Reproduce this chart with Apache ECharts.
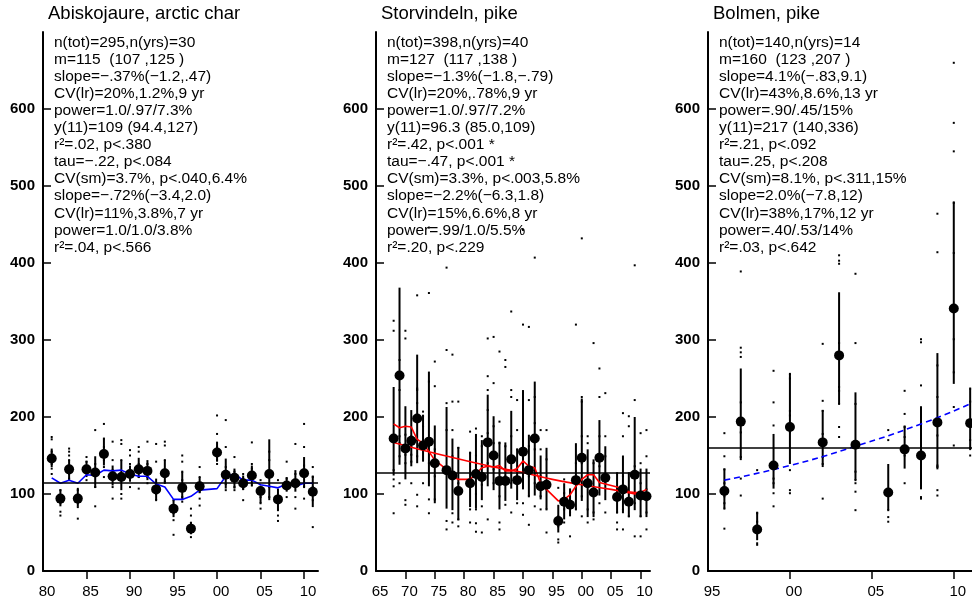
<!DOCTYPE html>
<html>
<head>
<meta charset="utf-8">
<script src="https://cdn.jsdelivr.net/npm/echarts@6/dist/echarts.min.js"></script>
<style>html,body{margin:0;padding:0;background:#fff}#c{width:972px;height:603px}</style>
</head>
<body>
<div id="c"></div>
<script>
// ---------- Panel 1: Abiskojaure, arctic char ----------
const p1Title = 'Abiskojaure, arctic char';
const p1Stats = ['n(tot)=295,n(yrs)=30','m=115  (107 ,125 )','slope=\u2212.37%(\u22121.2,.47)','CV(lr)=20%,1.2%,9 yr','power=1.0/.97/7.3%','y(11)=109 (94.4,127)','r\u00b2=.02, p<.380','tau=\u2212.22, p<.084','CV(sm)=3.7%, p<.040,6.4%','slope=\u2212.72%(\u22123.4,2.0)','CV(lr)=11%,3.8%,7 yr','power=1.0/1.0/3.8%','r\u00b2=.04, p<.566'];
const p1Years = [1981,1982,1983,1984,1985,1986,1987,1988,1989,1990,1991,1992,1993,1994,1995,1996,1997,1998,2000,2001,2002,2003,2004,2005,2006,2007,2008,2009,2010,2011];
const p1Means = [146,94,132,94,132,128,152,123,122,126,132,130,106,127,81,108,55,110,154,125,121,114,124,104,126,93,111,114,127,103];
const p1Lo = [135,84,118,84,122,108,137,111,105,116,121,118,92,113,70,92,49,101,142,107,107,105,111,88,92,79,103,103,109,83];
const p1Hi = [159,106,144,108,143,149,172,137,144,137,147,144,120,144,92,129,64,122,168,146,133,124,137,111,171,107,122,131,148,124];
const p1Smooth = [121,114,118,114,125,124,131,130,131,126,123,123,113,109,93,93,97,105,107,123,126,118,118,112,110,108,113,110,114,114];
const p1GrandMean = 115;
const p1Dots = [
 [174,171,155,139,133,126],[105,98,88,77,72],[159,155,150,144,133,126,120],[105,96,88,83,68],
 [148,142,135,129,118],[183,139,126,109,84],[191,172,161,144,135,122],[168,144,131,118,109,94],
 [170,165,144,118,100,94],[157,150,139,126,118,109],[161,155,139,133,122,107],[168,139,131,122,114],
 [165,142,114,100,92],[168,163,144,131,122,116],[92,83,75,66,47],[150,142,129,118,96,90],
 [81,72,62,53,49,44],[135,122,113,103,94,85],[202,178,161,148,144,139],[196,161,135,113,105],
 [148,129,118,109,105],[126,120,107,92],[167,139,133,122,111],[118,107,96,88,81],
 [155,144,126,109,96],[118,96,79,72,65],[142,120,113,107,96],[165,126,116,96,81],
 [191,161,137,122,109,94],[135,122,109,92,57]
];

// ---------- Panel 2: Storvindeln, pike ----------
const p2Title = 'Storvindeln, pike';
const p2Stats = ['n(tot)=398,n(yrs)=40','m=127  (117 ,138 )','slope=\u22121.3%(\u22121.8,\u2212.79)','CV(lr)=20%,.78%,9 yr','power=1.0/.97/7.2%','y(11)=96.3 (85.0,109)','r\u00b2=.42, p<.001 *','tau=\u2212.47, p<.001 *','CV(sm)=3.3%, p<.003,5.8%','slope=\u22122.2%(\u22126.3,1.8)','CV(lr)=15%,6.6%,8 yr','power=.99/1.0/5.5%','r\u00b2=.20, p<.229'];
const p2Years = [1968,1969,1970,1971,1972,1973,1974,1975,1977,1978,1979,1981,1982,1983,1984,1985,1986,1987,1988,1989,1990,1991,1992,1993,1994,1996,1997,1998,1999,2000,2001,2002,2003,2004,2006,2007,2008,2009,2010,2011];
const p2Means = [172,254,159,169,198,163,168,140,131,124,104,114,126,122,167,150,117,117,145,118,155,131,172,110,112,65,90,86,118,147,114,102,147,121,96,106,90,125,98,97];
const p2Lo = [124,138,119,136,140,142,110,88,81,79,66,83,81,92,110,105,80,91,107,92,106,97,98,93,80,50,67,71,80,91,70,70,98,92,75,75,70,79,70,70];
const p2Hi = [239,368,214,209,281,203,259,189,213,172,161,155,178,170,229,201,168,167,208,158,235,177,246,150,160,86,114,106,166,224,158,145,196,162,127,150,126,200,133,133];
const p2Smooth = [191,186,188,187,171,166,155,144,132,122,119,119,126,134,136,135,137,130,130,133,143,136,134,114,106,91,93,99,110,119,125,125,115,113,109,107,103,102,102,106];
const p2TrendYears = [1968,1975,1985,1990,1995,2000,2005,2011];
const p2TrendVals = [167,153,135,128,119,112,106,97];
const p2GrandMean = 127;
const p2Dots = [
 [325,312,131,119,110,75],[274,235,175,166,149,114],[312,302,177,151,140,92,86],[175,162,151,142,114],
 [358,237,235,218,170,149,99,84],[207,201,188,158,114],[446,361,246,162,140,93,75],[272,240,158,123,93],
 [394,287,218,183,134,65,54],[281,220,183,149,75,63],[220,160,114,67,58],[181,153,119,80,63],
 [185,150,100,80,62,51],[175,162,136,112,84,50],[302,253,235,209,179,140,67],[304,244,188,166,132,114],
 [285,194,166,114,97,63,54],[274,265,162,123,114,86],[337,235,226,175,114,76],[222,183,158,114,88],
 [443,320,231,201,162,136,88,73],[317,222,162,123,97,60],[407,226,192,158,114,84],[183,158,123,97,80],
 [183,145,106,80,50],[108,71,58,41,37],[119,101,80,63],[106,88,76,45],
 [320,140,114,80],[432,226,220,175,140,97,71],[175,166,114,80,63],[296,140,106,76,67],
 [263,226,175,136,88],[231,175,149,114,76],[127,106,76,63,54],[205,175,123,80,54],
 [201,188,127,88,71],[397,222,136,88,45],[179,140,114,71,45],[183,149,106,76,54]
];

// ---------- Panel 3: Bolmen, pike ----------
const p3Title = 'Bolmen, pike';
const p3Stats = ['n(tot)=140,n(yrs)=14','m=160  (123 ,207 )','slope=4.1%(\u2212.83,9.1)','CV(lr)=43%,8.6%,13 yr','power=.90/.45/15%','y(11)=217 (140,336)','r\u00b2=.21, p<.092','tau=.25, p<.208','CV(sm)=8.1%, p<.311,15%','slope=2.0%(\u22127.8,12)','CV(lr)=38%,17%,12 yr','power=.40/.53/14%','r\u00b2=.03, p<.642'];
const p3Years = [1996,1997,1998,1999,2000,2002,2003,2004,2006,2007,2008,2009,2010,2011];
const p3Means = [104,194,54,137,187,167,280,164,102,158,150,193,341,192];
const p3Lo = [81,144,40,107,139,135,217,118,79,133,106,132,243,157];
const p3Hi = [133,263,77,178,256,209,362,232,139,189,214,283,480,237];
const p3TrendYears = [1996,2000,2004,2008,2011];
const p3TrendVals = [118,137,162,191,217];
const p3GrandMean = 160;
const p3Dots = [
 [179,149,132,114,97,88,81,55],[389,290,284,278,219,180,148,120,98],[131,75,64,53,36,34],
 [260,219,189,139,120,114,101,84],[256,250,208,202,191,180,131,105,101],[295,221,208,178,148,139,94],
 [410,403,399,296,239,234,217,187,174],[386,296,217,129,118,114,103,79],[183,170,79,70,64],
 [234,204,187,174,161,150,114],[301,297,241,122,116,96,94],[464,414,267,226,191,176,137,135,105,98],
 [660,582,545,478,413,301,258,213,163],[237,220,192,170,160,150]
];

// Axis tick/label values
const yTickVals = [0,100,200,300,400,500,600];
const xLabelVals = [
 [1980,1985,1990,1995,2000,2005,2010],
 [1965,1970,1975,1980,1985,1990,1995,2000,2005,2010],
 [1995,2000,2005,2010]
];
const xMins = [1980,1965,1995];
const xMax = 2011.6;

// ---------- build ----------
const FONT = "'Liberation Sans', Arial, Helvetica, sans-serif";
const grids = [
 {left:43, top:32, width:275, height:539},
 {left:376, top:32, width:274, height:539},
 {left:708, top:32, width:272, height:539}
];
const panels = [
 {title:p1Title, stats:p1Stats, years:p1Years, means:p1Means, lo:p1Lo, hi:p1Hi, dots:p1Dots, gm:p1GrandMean},
 {title:p2Title, stats:p2Stats, years:p2Years, means:p2Means, lo:p2Lo, hi:p2Hi, dots:p2Dots, gm:p2GrandMean},
 {title:p3Title, stats:p3Stats, years:p3Years, means:p3Means, lo:p3Lo, hi:p3Hi, dots:p3Dots, gm:p3GrandMean}
];

const titles = [], xAxes = [], yAxes = [], series = [];
panels.forEach((p, i) => {
  const g = grids[i];
  titles.push({text:p.title, left:g.left+5, top:4, padding:0,
    textStyle:{fontSize:18.5, fontWeight:'normal', fontFamily:FONT, color:'#000'}});
  titles.push({text:p.stats.join('\n'), left:g.left+11, top:34, padding:0,
    textStyle:{fontSize:15.5, lineHeight:17.07, fontWeight:'normal', fontFamily:FONT, color:'#000'}});
  const tickVals = xLabelVals[i].filter(v => v > xMins[i]);
  xAxes.push({type:'value', gridIndex:i, min:xMins[i], max:xMax,
    axisLine:{show:true, onZero:false, lineStyle:{color:'#000', width:2}},
    axisTick:{show:true, length:8, lineStyle:{color:'#000', width:1.5}, customValues:tickVals},
    axisLabel:{customValues:xLabelVals[i], color:'#000', fontSize:15, fontFamily:FONT, margin:13,
      padding:[0,0,0,8], formatter:v => String(Math.round(v) % 100).padStart(2,'0')},
    splitLine:{show:false}});
  yAxes.push({type:'value', gridIndex:i, min:0, max:700,
    axisLine:{show:true, onZero:false, lineStyle:{color:'#000', width:2}},
    axisTick:{show:true, inside:true, length:8, lineStyle:{color:'#000', width:1.5}, customValues:yTickVals},
    axisLabel:{customValues:yTickVals, color:'#000', fontSize:15, fontWeight:'bold', fontFamily:FONT, margin:8},
    splitLine:{show:false}});
  const dotData = [];
  p.years.forEach((y, k) => p.dots[k].forEach(v => dotData.push([y, v])));
  series.push({type:'scatter', xAxisIndex:i, yAxisIndex:i, data:dotData, symbol:'rect', symbolSize:2,
    itemStyle:{color:'#000', opacity:1}, z:1, silent:true});
  series.push({type:'custom', xAxisIndex:i, yAxisIndex:i, z:2, silent:true,
    data:p.years.map((y,k) => [y, p.lo[k], p.hi[k]]),
    encode:{x:0, y:[1,2]},
    renderItem:(params, api) => {
      const a = api.coord([api.value(0), api.value(1)]);
      const b = api.coord([api.value(0), api.value(2)]);
      return {type:'line', shape:{x1:a[0], y1:a[1], x2:b[0], y2:b[1]}, style:{stroke:'#000', lineWidth:2}};
    }});
  series.push({type:'scatter', xAxisIndex:i, yAxisIndex:i, z:5, silent:true,
    data:p.years.map((y,k) => [y, p.means[k]]), symbol:'circle', symbolSize:10,
    itemStyle:{color:'#000', opacity:1},
    markLine:{silent:true, symbol:'none', label:{show:false}, animation:false,
      lineStyle:{color:'#000', width:1.5, type:'solid', opacity:1}, data:[{yAxis:p.gm}]}});
});
series.push({type:'line', xAxisIndex:0, yAxisIndex:0, z:4, data:p1Years.map((y,k)=>[y,p1Smooth[k]]),
  showSymbol:false, lineStyle:{color:'#0000ff', width:1.6}, silent:true});
series.push({type:'line', xAxisIndex:1, yAxisIndex:1, z:4, data:p2Years.map((y,k)=>[y,p2Smooth[k]]),
  showSymbol:false, lineStyle:{color:'#ff0000', width:1.6}, silent:true});
series.push({type:'line', xAxisIndex:1, yAxisIndex:1, z:4, data:p2TrendYears.map((y,k)=>[y,p2TrendVals[k]]),
  showSymbol:false, smooth:true, lineStyle:{color:'#ff0000', width:1.6}, silent:true});
series.push({type:'line', xAxisIndex:2, yAxisIndex:2, z:4, data:p3TrendYears.map((y,k)=>[y,p3TrendVals[k]]),
  showSymbol:false, smooth:true, lineStyle:{color:'#0000ff', width:1.6, type:[6,4]}, silent:true});

const chart = echarts.init(document.getElementById('c'), null, {renderer:'canvas'});
chart.setOption({
  animation:false,
  backgroundColor:'#fff',
  title:titles,
  grid:grids.map(g => Object.assign({outerBoundsMode:'none', containLabel:false}, g)),
  xAxis:xAxes,
  yAxis:yAxes,
  series:series
});
</script>
</body>
</html>
